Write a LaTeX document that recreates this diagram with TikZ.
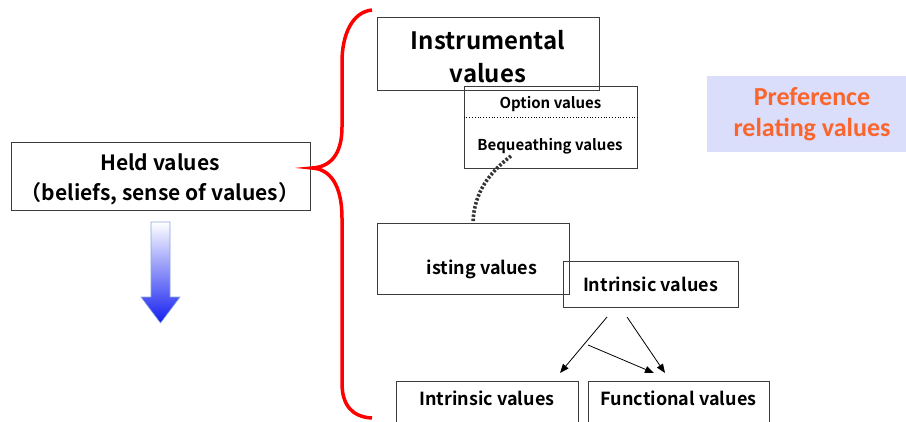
\documentclass[tikz,border=0pt]{standalone}
\usepackage{fontspec}
\setmainfont{Noto Sans CJK JP}[BoldFont={Noto Sans CJK JP Bold}]
\newfontfamily\calib{Carlito}
\usetikzlibrary{arrows.meta}
\definecolor{boxline}{RGB}{60,60,60}
\definecolor{prefbg}{RGB}{218,222,250}
\definecolor{preftxt}{RGB}{250,100,45}
\definecolor{arrowblue}{RGB}{20,30,240}
\definecolor{arrowedge}{RGB}{140,165,225}
\tikzset{
  box/.style={draw=boxline, line width=0.9pt, rectangle, inner sep=0pt},
  txt/.style={inner sep=0pt, font=\bfseries, align=center},
  conn/.style={line width=0.8pt, -{Triangle[length=9pt,width=7pt]}},
}
\begin{document}
\begin{tikzpicture}[x=1pt,y=-1pt]
\useasboundingbox (0,0) rectangle (906,421);
\clip (0,0) rectangle (906,421);
% Held values
\node[box, minimum width=299, minimum height=68] (held) at (160.5,176) {};
\node[txt, font=\bfseries\fontsize{21}{30}\selectfont] (heldt) at (160,179) {Held values\\（beliefs, sense of values）};
% gradient arrow
\path[top color=white, bottom color=arrowblue, draw=arrowedge, line width=0.6pt]
  (151,222) -- (170,222) -- (170,297) -- (180,297) -- (160.5,323) -- (141,297) -- (151,297) -- cycle;
% red brace
\draw[red, line width=3.5pt] (372,10) .. controls (352,12) and (342,35) .. (342,62) -- (342,127)
  .. controls (342,155) and (330,167) .. (312,168)
  .. controls (330,169) and (342,185) .. (342,218) -- (342,383)
  .. controls (342,405) and (352,417) .. (372,418);
% Instrumental values
\node[box, minimum width=222, minimum height=73] (instr) at (488,53.5) {};
\node[txt, font=\bfseries\fontsize{24}{33}\selectfont] (instrt) at (488,56.5) {Instrumental\\values};
% Option / Bequeathing
\node[box, minimum width=173, minimum height=82] (opt) at (550.5,127) {};
\draw[dotted, line width=0.8pt] (opt.west |- 0,117) -- (opt.east |- 0,117);
\node[txt, font=\bfseries\fontsize{15}{16}\selectfont] (optt) at (550.5,104) {Option values};
\node[txt, font=\bfseries\fontsize{15}{16}\selectfont] (bequ) at (550,146) {Bequeathing values};
% isting values
\node[box, minimum width=192, minimum height=71] (exist) at (473,258.5) {};
\node[txt, font=\bfseries\fontsize{18}{20}\selectfont] (existt) at (482,269) {isting values};
% dotted connector
\coordinate (dotA) at (511,156);
\draw[line width=3.6pt, dash pattern=on 2.4pt off 1.8pt, black!80] (dotA) .. controls (490,172) and (474,192) .. (exist.north -| 473,0);
% Intrinsic values upper
\node[box, minimum width=175, minimum height=46] (intr) at (650.5,284) {};
\node[txt, font=\bfseries\fontsize{18}{20}\selectfont] (intrt) at (intr.center) {Intrinsic values};
% bottom boxes
\node[box, anchor=north, minimum width=182, text height=24pt, text depth=20pt, font=\bfseries\fontsize{18}{20}\selectfont] (intb) at (487,381) {Intrinsic values};
\node[box, anchor=north, minimum width=181, text height=24pt, text depth=20pt, font=\bfseries\fontsize{18}{20}\selectfont] (func) at (678.5,381) {Functional values};
% arrows
\coordinate (a1) at (607,317);
\coordinate (a2) at (627,317);
\coordinate (a3) at (588,345);
\draw[conn] (a1) -- (560,373);
\draw[conn] (a2) -- (665,373);
\draw[conn] (a3) -- (654,373);
% Preference relating values
\node[fill=prefbg, minimum width=199, minimum height=76, inner sep=0pt] (pref) at (806.5,114) {};
\node[inner sep=0pt, align=center, text=preftxt, font=\calib\bfseries\fontsize{26}{31}\selectfont] (preft) at (812,114) {Preference\\relating values};
\end{tikzpicture}
\end{document}
